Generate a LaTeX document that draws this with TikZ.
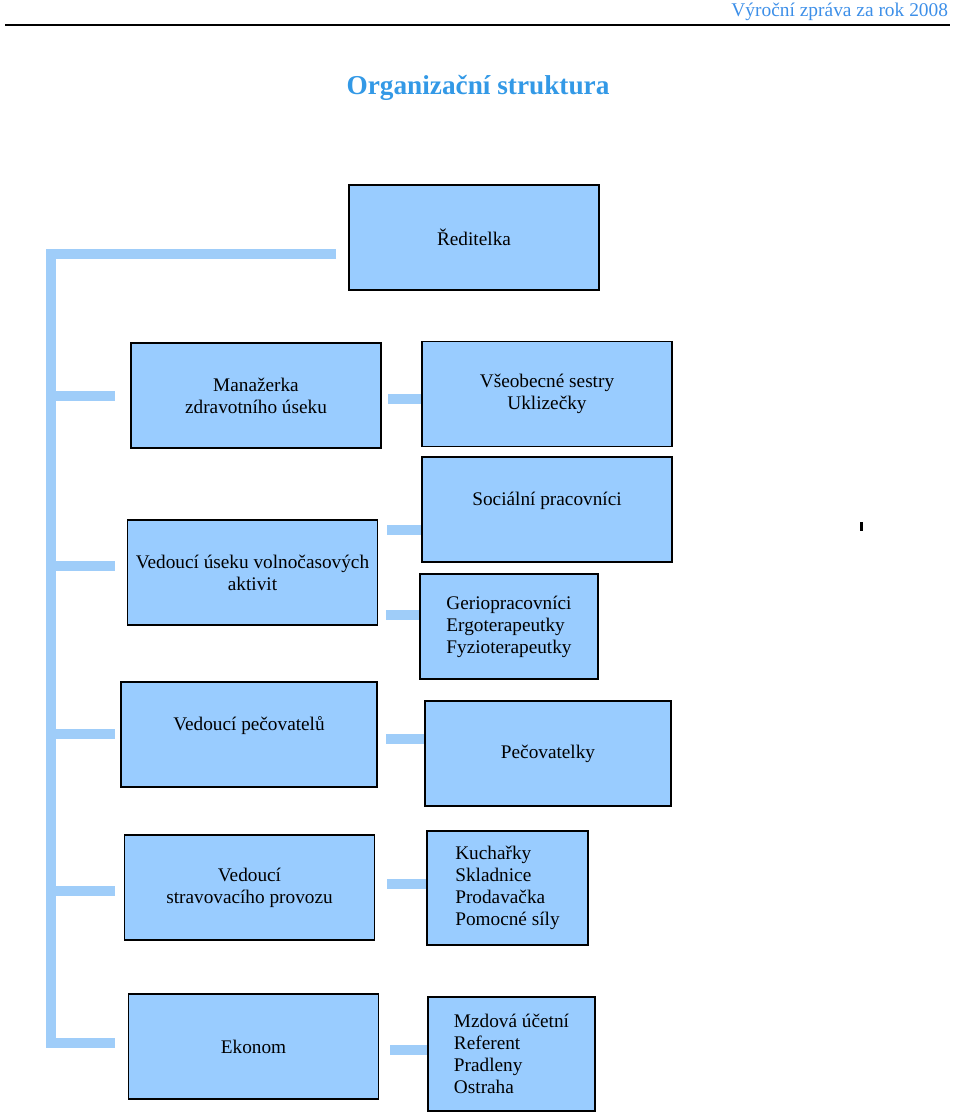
\documentclass[tikz,border=0pt]{standalone}
\usepackage{fontspec}
\setmainfont{Liberation Serif}
\usetikzlibrary{positioning,calc}
\definecolor{boxblue}{HTML}{99CCFF}
\definecolor{barblue}{HTML}{9FCDF9}
\definecolor{titleblue}{HTML}{3399E6}
\definecolor{headblue}{HTML}{3D8FE8}
\begin{document}
\begin{tikzpicture}
[x=0.025cm,y=-0.025cm,
orgbox/.style = {draw=black, line width=1.1pt, fill=boxblue, inner sep=0pt, align=center,
  minimum width=6.25cm, minimum height=2.625cm, font=\fontsize{13.7}{15.6}\selectfont},
listbox/.style = {orgbox, align=left, minimum width=4.1cm, minimum height=2.85cm},
bar/.style = {draw=barblue, line width=7.8pt, line join=miter},]
\useasboundingbox (0,0) rectangle (960,1116);

% header
\node (head) at (953,17)[anchor=base east, text=headblue, font=\fontsize{13.8}{16}\selectfont] {Výroční zpráva za rok 2008};
\coordinate (ruleL) at (5,25);
\coordinate (ruleR) at (950,25);
\draw[line width=1.4pt] (ruleL)--(ruleR);
\node (title) at (478,88)[text=titleblue, font=\fontsize{19.4}{22}\selectfont\bfseries] {Organizační struktura};

% boxes
\node (red) at (474,237.5)[orgbox] {Ředitelka};
\node (man) at (256,395.5)[orgbox] {Manažerka\\zdravotního úseku};
\node (ses) at (547,394)[orgbox] {Všeobecné sestry\\Uklizečky};
\node (soc) at (547,509.5)[orgbox] {Sociální pracovníci\\~};
\node (vol) at (252.5,572.5)[orgbox] {Vedoucí úseku volnočasových\\aktivit};
\node (ger) at (509,626.5)[listbox, minimum width=4.45cm, minimum height=2.625cm] {Geriopracovníci\\Ergoterapeutky\\Fyzioterapeutky};
\node (pec) at (249,734.5)[orgbox, minimum width=6.4cm] {Vedoucí pečovatelů\\~};
\node (pcl) at (548,753.5)[orgbox, minimum width=6.15cm] {Pečovatelky};
\node (str) at (249.5,887.5)[orgbox] {Vedoucí\\stravovacího provozu};
\node (kuc) at (507.5,888)[listbox, minimum width=4.025cm] {Kuchařky\\Skladnice\\Prodavačka\\Pomocné síly};
\node (eko) at (253.5,1046.5)[orgbox] {Ekonom};
\node (mzd) at (511.5,1054)[listbox, minimum width=4.175cm] {Mzdová účetní\\Referent\\Pradleny\\Ostraha};

% left spine
\coordinate (spinetop) at (336,254);
\coordinate (spinecorner) at (51,254);
\coordinate (spinefoot) at (51,1043);
\coordinate (a5) at (115,1043);
\draw[bar] (spinetop)--(spinecorner)--(spinefoot)--(a5);
\coordinate (a1) at (115,396);
\coordinate (a2) at (115,566);
\coordinate (a3) at (115,734);
\coordinate (a4) at (115,891);
\foreach \s in {a1,a2,a3,a4}
  \draw[bar] (\s -| spinecorner)--(\s);

% right stubs
\coordinate (b1) at (388,399);
\coordinate (b2) at (387,530);
\coordinate (b3) at (386,615);
\coordinate (b4) at (386,739);
\coordinate (b5) at (387,884);
\coordinate (b6) at (390,1050);
\draw[bar] (b1)--(b1 -| ses.west);
\draw[bar] (b2)--(b2 -| soc.west);
\draw[bar] (b3)--(b3 -| ger.west);
\draw[bar] (b4)--(b4 -| pcl.west);
\draw[bar] (b5)--(b5 -| kuc.west);
\draw[bar] (b6)--(b6 -| mzd.west);

% stray mark
\coordinate (tick) at (861,526.5);
\fill ($(tick)+(-1.5,-4.5)$) rectangle ($(tick)+(1.5,4.5)$);
\end{tikzpicture}
\end{document}
